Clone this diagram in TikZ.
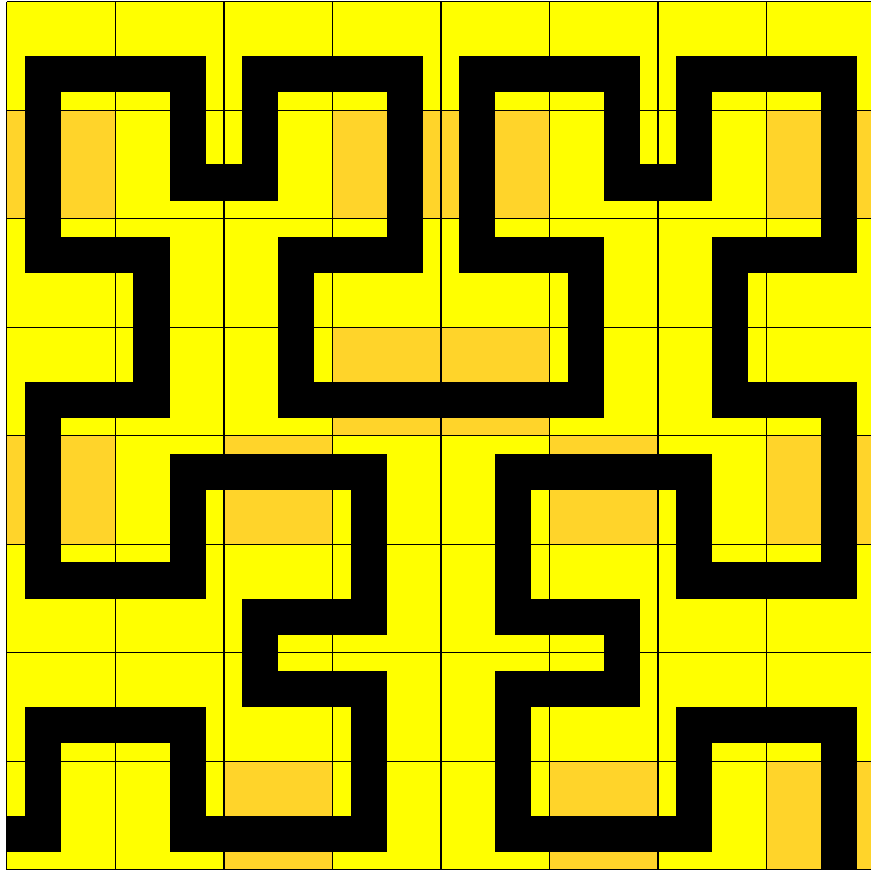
\documentclass[tikz,border=0pt]{standalone}
\definecolor{cellyellow}{RGB}{255,255,0}
\definecolor{cellorange}{RGB}{255,212,42}
\tikzset{
  gridline/.style={black, line width=0.45pt},
  curve/.style={black, line width=0.5cm, line join=miter, line cap=butt}
}
\begin{document}
\begin{tikzpicture}[x=0.5cm, y=-0.5cm]
\useasboundingbox (-0.19,-0.047) rectangle (23.88,24.03);
\clip (-0.19,-0.047) rectangle (23.88,24.03);
\fill[white] (-0.19,-0.047) rectangle (23.88,24.03);
\fill[cellyellow] (0,0) rectangle (24,24);
\foreach \r/\c in {1/0,1/3,1/4,1/7,3/3,3/4,4/0,4/2,4/5,4/7,7/2,7/5,7/7}
  \fill[cellorange] ({3*\c},{3*\r}) rectangle ++(3,3);
\foreach \i in {0,3,...,24} {
  \draw[gridline] (\i,0) -- (\i,24);
  \draw[gridline] (0,\i) -- (24,\i);
}
\draw[curve] (0,23) -- (1,23) -- (1,20) -- (5,20) -- (5,23) -- (10,23) -- (10,19)
  -- (7,19) -- (7,17) -- (10,17) -- (10,13) -- (5,13) -- (5,16) -- (1,16)
  -- (1,11) -- (4,11) -- (4,7) -- (1,7) -- (1,2) -- (5,2) -- (5,5) -- (7,5)
  -- (7,2) -- (11,2) -- (11,7) -- (8,7) -- (8,11) -- (16,11) -- (16,7)
  -- (13,7) -- (13,2) -- (17,2) -- (17,5) -- (19,5) -- (19,2) -- (23,2)
  -- (23,7) -- (20,7) -- (20,11) -- (23,11) -- (23,16) -- (19,16) -- (19,13)
  -- (14,13) -- (14,17) -- (17,17) -- (17,19) -- (14,19) -- (14,23) -- (19,23)
  -- (19,20) -- (23,20) -- (23,24);
\end{tikzpicture}
\end{document}
